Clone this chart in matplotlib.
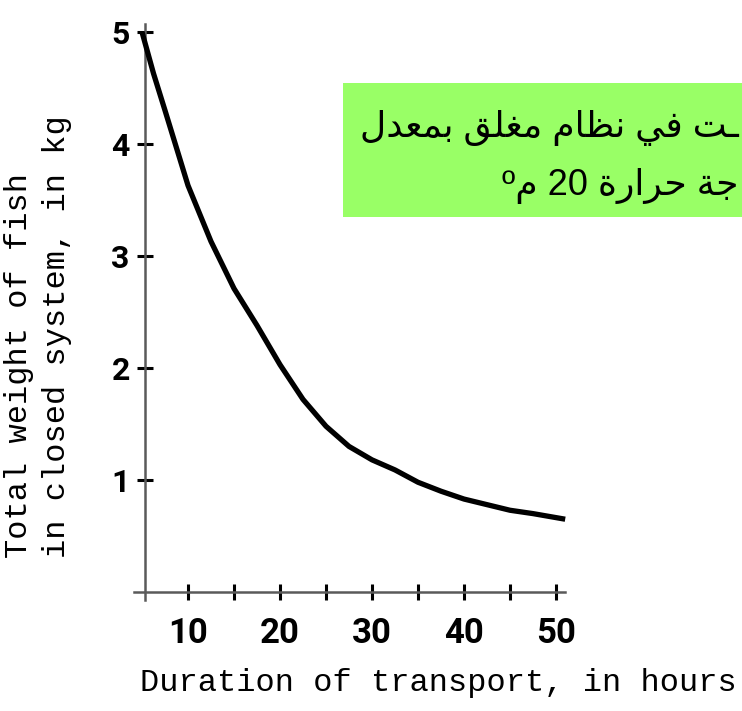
import re

import matplotlib
matplotlib.use("Agg")
import matplotlib.pyplot as plt
from matplotlib.patches import Rectangle

# Curve
hours = [5, 6.25, 7.5, 10, 12.5, 15, 17.5, 20, 22.5, 25, 27.5, 30,
         32.5, 35, 37.5, 40, 42.5, 45, 47.5, 51]
weight_kg = [5.0, 4.63, 4.30, 3.63, 3.13, 2.71, 2.38, 2.03, 1.72, 1.48,
             1.30, 1.18, 1.09, 0.98, 0.90, 0.83, 0.78, 0.73, 0.70, 0.65]

x_major = [10, 20, 30, 40, 50]
x_minor = [15, 25, 35, 45]
y_ticks = [1, 2, 3, 4, 5]

x_label = "Duration of transport, in hours"
y_label_1 = "Total weight of fish"
y_label_2 = "in closed system, in kg"

# Arabic caption (visible part only, the box is cut by the image edge)
note_line_1 = "ـت في نظام مغلق بمعدل"
note_line_2 = "جة حرارة 20 مº"

# isolated, final, initial, medial presentation forms
AR_FORMS = {
    "ـ": ("ـ", "ـ", "ـ", "ـ"),
    "ا": ("\ufe8d", "\ufe8e", None, None),
    "ب": ("\ufe8f", "\ufe90", "\ufe91", "\ufe92"),
    "ت": ("\ufe95", "\ufe96", "\ufe97", "\ufe98"),
    "ج": ("\ufe9d", "\ufe9e", "\ufe9f", "\ufea0"),
    "ح": ("\ufea1", "\ufea2", "\ufea3", "\ufea4"),
    "د": ("\ufea9", "\ufeaa", None, None),
    "ر": ("\ufead", "\ufeae", None, None),
    "ظ": ("\ufec5", "\ufec6", "\ufec7", "\ufec8"),
    "ع": ("\ufec9", "\ufeca", "\ufecb", "\ufecc"),
    "غ": ("\ufecd", "\ufece", "\ufecf", "\ufed0"),
    "ف": ("\ufed1", "\ufed2", "\ufed3", "\ufed4"),
    "ق": ("\ufed5", "\ufed6", "\ufed7", "\ufed8"),
    "ل": ("\ufedd", "\ufede", "\ufedf", "\ufee0"),
    "م": ("\ufee1", "\ufee2", "\ufee3", "\ufee4"),
    "ن": ("\ufee5", "\ufee6", "\ufee7", "\ufee8"),
    "ة": ("\ufe93", "\ufe94", None, None),
    "ي": ("\ufef1", "\ufef2", "\ufef3", "\ufef4"),
}


def shape_arabic(text):
    # matplotlib has no Arabic shaping, so pick the glyph forms by hand
    out = []
    for i, c in enumerate(text):
        if c not in AR_FORMS:
            out.append(c)
            continue
        prev = text[i - 1] if i > 0 else ""
        nxt = text[i + 1] if i + 1 < len(text) else ""
        iso, fin, ini, med = AR_FORMS[c]
        join_prev = prev in AR_FORMS and AR_FORMS[prev][2] is not None
        join_next = nxt in AR_FORMS and ini is not None
        if join_prev and join_next:
            out.append(med)
        elif join_prev:
            out.append(fin)
        elif join_next:
            out.append(ini)
        else:
            out.append(iso)
    runs = re.findall(r"[0-9]+|.", "".join(out))
    return "".join(reversed(runs))


W, H = 742, 711
fig = plt.figure(figsize=(W / 100, H / 100), dpi=100)

# pixel mapping of the scan: x = 142 + (h - 5) * 9.2, y = 592 - v * 112
ax = fig.add_axes([131 / W, 1 - 605 / H, 441 / W, 590 / H])
ax.set_xlim(3.804, 51.74)
ax.set_ylim(-0.116, 5.152)
ax.patch.set_alpha(0)

ax.plot(hours, weight_kg, color="black", linewidth=3.8,
        solid_joinstyle="round", solid_capstyle="butt", zorder=3)

for side in ["top", "right"]:
    ax.spines[side].set_visible(False)
ax.spines["left"].set_position(("data", 5.33))
ax.spines["bottom"].set_position(("data", 0))
ax.spines["left"].set_bounds(-0.07, 5.07)
ax.spines["bottom"].set_bounds(4.1, 51.0)
for side in ["left", "bottom"]:
    ax.spines[side].set_color("#5a5a5a")
    ax.spines[side].set_linewidth(1.8)

ax.set_xticks(x_major)
ax.set_xticks(x_minor, minor=True)
ax.set_yticks(y_ticks)
ax.set_xticklabels([str(v) for v in x_major])
ax.set_yticklabels([str(v) for v in y_ticks])
ax.tick_params(which="both", direction="inout", length=12, width=2.2,
               color="black")
ax.tick_params(axis="x", which="major", pad=12)
ax.tick_params(axis="y", pad=5)

tick_family = ["Roboto", "DejaVu Sans"]
for lbl in ax.get_xticklabels():
    lbl.set_fontfamily(tick_family)
    lbl.set_fontweight("bold")
    lbl.set_fontsize(25)
for lbl in ax.get_yticklabels():
    lbl.set_fontfamily(tick_family)
    lbl.set_fontweight("bold")
    lbl.set_fontsize(23)

mono = ["Liberation Mono", "DejaVu Sans Mono"]
fig.text(140 / W, 1 - 683 / H, x_label, family=mono, fontsize=23,
         ha="left", va="center")
fig.text(19 / W, 1 - 558 / H, y_label_1, family=mono, fontsize=23,
         rotation=90, ha="center", va="bottom")
fig.text(57 / W, 1 - 558 / H, y_label_2, family=mono, fontsize=23,
         rotation=90, ha="center", va="bottom")

# green caption box running off the right edge
fig.add_artist(Rectangle((343 / W, 1 - 217 / H), 0.6, 134 / H,
                         transform=fig.transFigure, facecolor="#99ff66",
                         edgecolor="none", zorder=5))
ar_family = ["Liberation Sans", "DejaVu Sans"]
fig.text(739 / W, 1 - 137 / H, shape_arabic(note_line_1), family=ar_family,
         fontsize=26, ha="right", va="baseline", zorder=6)
fig.text(739 / W, 1 - 195 / H, shape_arabic(note_line_2), family=ar_family,
         fontsize=26, ha="right", va="baseline", zorder=6)

fig.savefig("out.png", dpi=100)
plt.close(fig)
